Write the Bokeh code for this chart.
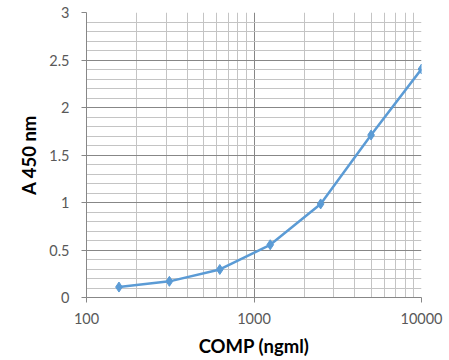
from bokeh.plotting import figure
from bokeh.models import Range1d, FixedTicker, CustomJSTickFormatter
from bokeh.embed import file_html
from bokeh.resources import INLINE

# Data
conc = [156.25, 312.5, 625, 1250, 2500, 5000, 10000]
absorbance = [0.11, 0.17, 0.295, 0.555, 0.985, 1.71, 2.405]

# Ticks
x_major = [100, 1000, 10000]
x_minor = [m * d for d in (100, 1000) for m in range(2, 10)]
y_major = [0, 0.5, 1, 1.5, 2, 2.5, 3]
y_minor = [round(i * 0.1, 1) for i in range(31) if i % 5]

FONT = "Lato"
LINE = "#5B9BD5"
MAJOR = "#878787"
MINOR = "#C4C4C4"

p = figure(width=449, height=360, x_axis_type="log",
           x_range=Range1d(100, 10000), y_range=Range1d(0, 3),
           output_backend="svg", toolbar_location=None,
           min_border_left=86, min_border_right=28,
           min_border_top=12, min_border_bottom=63)
p.outline_line_color = None
p.background_fill_color = "white"
p.border_fill_color = "white"

fmt = CustomJSTickFormatter(code="return String(tick);")

p.xaxis.ticker = FixedTicker(ticks=x_major, minor_ticks=x_minor)
p.yaxis.ticker = FixedTicker(ticks=y_major, minor_ticks=y_minor)
for ax in (p.xaxis, p.yaxis):
    ax.formatter = fmt
    ax.axis_line_color = MAJOR
    ax.axis_line_width = 1
    ax.major_tick_line_color = MAJOR
    ax.major_tick_in = 0
    ax.major_tick_out = 5
    ax.minor_tick_in = 0
    ax.minor_tick_out = 0
    ax.major_label_text_font = FONT
    ax.major_label_text_font_size = "14.5px"
    ax.major_label_text_color = "#595959"
    ax.axis_label_text_font = FONT
    ax.axis_label_text_font_style = "bold"
    ax.axis_label_text_font_size = "18.5px"
    ax.axis_label_text_color = "#000000"

p.xaxis.major_label_standoff = 10
p.xaxis.axis_label = "COMP (ngml)"
p.xaxis.axis_label_standoff = 8
p.yaxis.major_label_standoff = 12
p.yaxis.axis_label = "A 450 nm"
p.yaxis.axis_label_standoff = 6

for g in (p.xgrid, p.ygrid):
    g.grid_line_color = MAJOR
    g.grid_line_width = 1
    g.minor_grid_line_color = MINOR
    g.minor_grid_line_width = 1

p.line(conc, absorbance, line_color=LINE, line_width=2.5)
p.scatter(conc, absorbance, marker="diamond", size=10,
          fill_color=LINE, line_color=LINE)

open("out.html", "w").write(file_html(p, INLINE))
